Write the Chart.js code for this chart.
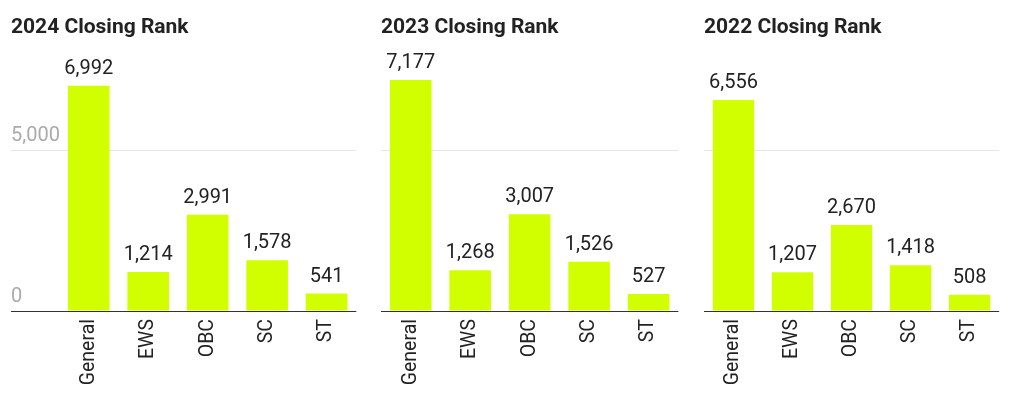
<!DOCTYPE html>
<html>
<head>
<meta charset="utf-8">
<script src="https://cdn.jsdelivr.net/npm/chart.js@4"></script>
<style>
  body { margin: 0; background: #fff; width: 1014px; height: 399px; overflow: hidden; position: relative; }
  .panel { position: absolute; top: 0; height: 399px; }
</style>
</head>
<body>
<div class="panel" style="left:11px;width:347px"><canvas id="c2024"></canvas></div>
<div class="panel" style="left:381px;width:299px"><canvas id="c2023"></canvas></div>
<div class="panel" style="left:704px;width:297px"><canvas id="c2022"></canvas></div>
<script>
const categories = ['General', 'EWS', 'OBC', 'SC', 'ST'];
const rank2024 = [6992, 1214, 2991, 1578, 541];
const rank2023 = [7177, 1268, 3007, 1526, 527];
const rank2022 = [6556, 1207, 2670, 1418, 508];
const yTicks = [0, 5000];

const FONT = 'Roboto';
const barColor = '#d2ff00';

// number labels above each bar
const valueLabels = {
  id: 'valueLabels',
  afterDatasetsDraw(chart) {
    const { ctx } = chart;
    const values = chart.data.datasets[0].data;
    ctx.save();
    ctx.font = `20px ${FONT}`;
    ctx.fillStyle = '#222';
    ctx.textAlign = 'center';
    ctx.textBaseline = 'alphabetic';
    chart.getDatasetMeta(0).data.forEach((bar, i) => {
      ctx.fillText(values[i].toLocaleString('en-US'), bar.x, bar.y - 12);
    });
    ctx.restore();
  }
};

function makeChart(id, title, values, showAxis) {
  const axisWidth = showAxis ? 48 : 0;
  return new Chart(document.getElementById(id), {
    type: 'bar',
    data: {
      labels: categories,
      datasets: [{
        data: values,
        backgroundColor: barColor,
        borderWidth: 0,
        barPercentage: 0.7,
        categoryPercentage: 1
      }]
    },
    options: {
      responsive: true,
      maintainAspectRatio: false,
      animation: false,
      layout: { padding: 0 },
      plugins: {
        legend: { display: false },
        tooltip: { enabled: false },
        title: {
          display: true,
          text: title,
          align: 'start',
          color: '#222',
          font: { family: FONT, size: 21, weight: 'bold' },
          padding: { top: 15.5, bottom: 12.7 }
        }
      },
      scales: {
        x: {
          afterFit: s => { s.height = 88; },
          grid: { display: false, drawTicks: false },
          border: { display: false },
          ticks: {
            autoSkip: false,
            minRotation: 90,
            maxRotation: 90,
            padding: 8,
            color: '#222',
            font: { family: FONT, size: 19.5 }
          }
        },
        y: {
          min: 0,
          max: 8000,
          afterBuildTicks: s => { s.ticks = yTicks.map(value => ({ value })); },
          afterFit: s => { s.width = axisWidth; },
          border: { display: false },
          grid: {
            color: c => (c.tick && c.tick.value === 0) ? '#333' : '#e6e6e6',
            drawTicks: showAxis,
            tickLength: axisWidth
          },
          ticks: {
            display: showAxis,
            crossAlign: 'far',
            labelOffset: -14,
            padding: 0,
            color: '#aaa',
            font: { family: FONT, size: 20 },
            callback: v => v.toLocaleString('en-US')
          }
        }
      }
    },
    plugins: [valueLabels]
  });
}

makeChart('c2024', '2024 Closing Rank', rank2024, true);
makeChart('c2023', '2023 Closing Rank', rank2023, false);
makeChart('c2022', '2022 Closing Rank', rank2022, false);
</script>
</body>
</html>
